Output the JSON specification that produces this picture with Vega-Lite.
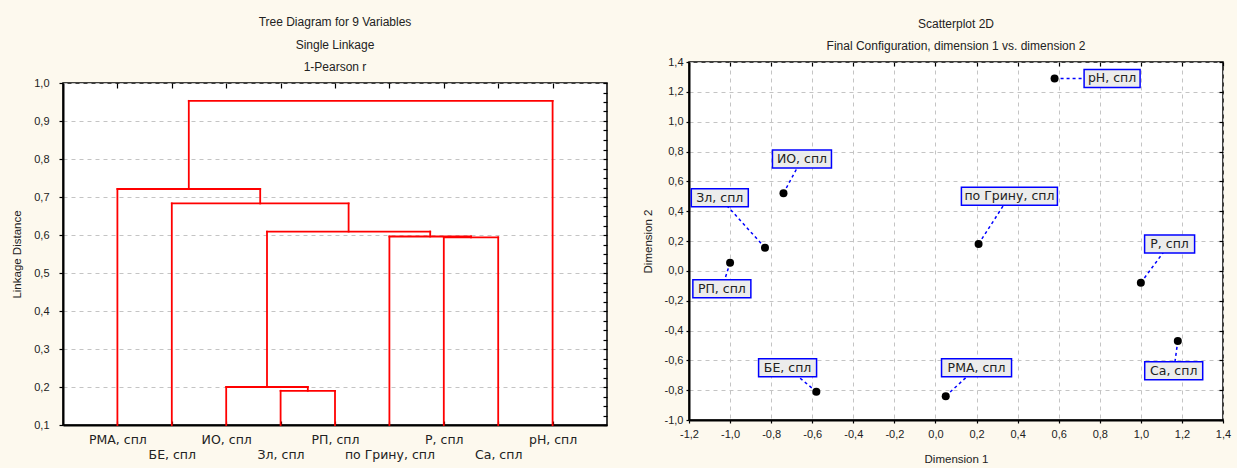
{
  "$schema": "https://vega.github.io/schema/vega-lite/v6.json",
  "background": "#fdf9ee",
  "padding": {"left": 10, "top": 15, "right": 5, "bottom": 2},
  "spacing": 32,
  "config": {
    "view": {"fill": "white", "stroke": "black", "strokeWidth": 1.5},
    "axis": {
      "domainColor": "black", "domainWidth": 2, "tickColor": "black", "tickWidth": 1.2,
      "labelFont": "Liberation Sans", "labelFontSize": 11, "labelColor": "#222",
      "labelOverlap": false, "labelFlush": false, "labelBound": false,
      "titleFont": "Liberation Sans", "titleFontSize": 11.5, "titleFontWeight": "normal", "titleColor": "#222",
      "gridColor": "#c4c4c4", "gridDash": [4, 4], "gridWidth": 1
    },
    "title": {"font": "Liberation Sans", "fontSize": 12, "fontWeight": "normal", "color": "#222", "lineHeight": 22.5, "offset": 3}
  },
  "hconcat": [
    {
      "bounds": "flush",
      "spacing": 20,
      "vconcat": [
        {
          "width": 1,
          "height": 1,
          "data": {"values": [{"a": 1}]},
          "mark": {"type": "point", "opacity": 0},
          "encoding": {},
          "view": {"stroke": null, "fill": null}
        },
        {
          "width": 544,
          "height": 342,
          "title": {"text": ["Tree Diagram for 9  Variables", "Single Linkage", "1-Pearson r"]},
          "data": {"values": [
            {"merge": "A", "xl": 4, "xr": 5, "h": 0.19, "hl": 0.1, "hr": 0.1},
            {"merge": "B", "xl": 3, "xr": 4.5, "h": 0.2, "hl": 0.1, "hr": 0.19},
            {"merge": "C", "xl": 7, "xr": 8, "h": 0.594, "hl": 0.1, "hr": 0.1},
            {"merge": "D", "xl": 6, "xr": 7.5, "h": 0.596, "hl": 0.1, "hr": 0.594},
            {"merge": "E", "xl": 3.75, "xr": 6.75, "h": 0.609, "hl": 0.2, "hr": 0.596},
            {"merge": "F", "xl": 2, "xr": 5.25, "h": 0.683, "hl": 0.1, "hr": 0.609},
            {"merge": "G", "xl": 1, "xr": 3.625, "h": 0.721, "hl": 0.1, "hr": 0.683},
            {"merge": "H", "xl": 2.3125, "xr": 9, "h": 0.953, "hl": 0.721, "hr": 0.1}
          ]},
          "layer": [
            {
              "layer": [
                {
                  "mark": {"type": "rule", "color": "#ff0000", "strokeWidth": 1.8, "strokeCap": "square"},
                  "encoding": {
                    "x": {"field": "xl", "type": "quantitative", "title": null,
                      "scale": {"domain": [0, 10], "nice": false, "zero": false},
                      "axis": {"values": [1, 2, 3, 4, 5, 6, 7, 8, 9], "tickCount": 100, "grid": false, "tickSize": -4, "labelPadding": 12,
                        "labelFont": "DejaVu Sans", "labelFontSize": 12.5, "labelLineHeight": 15,
                        "labelExpr": "datum.value % 2 == 0 ? ['', ['','РМА, спл','БЕ, спл','ИО, спл','Зл, спл','РП, спл','по Грину, спл','P, спл','Ca, спл','pH, спл'][datum.value]] : ['','РМА, спл','БЕ, спл','ИО, спл','Зл, спл','РП, спл','по Грину, спл','P, спл','Ca, спл','pH, спл'][datum.value]"}},
                    "x2": {"field": "xr"},
                    "y": {"field": "h", "type": "quantitative", "title": "Linkage Distance",
                      "scale": {"domain": [0.1, 1.0], "nice": false, "zero": false},
                      "axis": {"values": [0.1, 0.2, 0.3, 0.4, 0.5, 0.6, 0.7, 0.8, 0.9, 1.0], "tickCount": 100, "grid": true, "tickSize": 4,
                        "labelPadding": 10, "titlePadding": 11,
                        "labelExpr": "replace(format(datum.value, '.1f'), '.', ',')"}}
                  }
                },
                {
                  "mark": {"type": "rule", "color": "#ff0000", "strokeWidth": 1.8, "strokeCap": "square"},
                  "encoding": {
                    "x": {"field": "xl", "type": "quantitative", "title": null},
                    "y": {"field": "hl", "type": "quantitative", "title": "Linkage Distance"},
                    "y2": {"field": "h"}
                  }
                },
                {
                  "mark": {"type": "rule", "color": "#ff0000", "strokeWidth": 1.8, "strokeCap": "square"},
                  "encoding": {
                    "x": {"field": "xr", "type": "quantitative", "title": null},
                    "y": {"field": "hr", "type": "quantitative", "title": "Linkage Distance"},
                    "y2": {"field": "h"}
                  }
                }
              ]
            },
            {
              "mark": {"type": "rule", "opacity": 0},
              "encoding": {
                "x": {"field": "xl", "type": "quantitative",
                  "axis": {"orient": "top", "values": [1, 2, 3, 4, 5, 6, 7, 8, 9], "tickCount": 100, "labels": false, "domain": false, "grid": false, "tickSize": -5, "title": null}},
                "y": {"field": "h", "type": "quantitative",
                  "axis": {"orient": "right", "labels": false, "domain": false, "grid": false, "tickSize": -4, "title": null, "tickCount": 100,
                    "values": [0.1, 0.125, 0.15, 0.175, 0.2, 0.225, 0.25, 0.275, 0.3, 0.325, 0.35, 0.375, 0.4, 0.425, 0.45, 0.475, 0.5, 0.525, 0.55, 0.575, 0.6, 0.625, 0.65, 0.675, 0.7, 0.725, 0.75, 0.775, 0.8, 0.825, 0.85, 0.875, 0.9, 0.925, 0.95, 0.975, 1.0]}}
              }
            }
          ],
          "resolve": {"axis": {"x": "independent", "y": "independent"}}
        }
      ]
    },
    {
      "width": 534,
      "height": 358,
      "title": {"text": ["Scatterplot 2D", "Final Configuration, dimension 1  vs. dimension 2"]},
      "data": {"values": [
        {"name": "pH, спл", "x": 0.58, "y": 1.29, "lx": 0.86, "ly": 1.29},
        {"name": "по Грину, спл", "x": 0.21, "y": 0.18, "lx": 0.36, "ly": 0.5},
        {"name": "P, спл", "x": 1.0, "y": -0.08, "lx": 1.14, "ly": 0.18},
        {"name": "Ca, спл", "x": 1.18, "y": -0.47, "lx": 1.16, "ly": -0.67},
        {"name": "РМА, спл", "x": 0.05, "y": -0.84, "lx": 0.2, "ly": -0.65},
        {"name": "БЕ, спл", "x": -0.58, "y": -0.81, "lx": -0.72, "ly": -0.65},
        {"name": "ИО, спл", "x": -0.74, "y": 0.52, "lx": -0.65, "ly": 0.75},
        {"name": "Зл, спл", "x": -0.83, "y": 0.155, "lx": -1.05, "ly": 0.49},
        {"name": "РП, спл", "x": -1.0, "y": 0.055, "lx": -1.04, "ly": -0.12}
      ]},
      "layer": [
        {
          "layer": [
            {
              "mark": {"type": "rule", "color": "#0000ff", "strokeWidth": 1.5, "strokeDash": [3, 3]},
              "encoding": {
                "x": {"field": "x", "type": "quantitative", "title": "Dimension 1",
                  "scale": {"domain": [-1.2, 1.4], "nice": false, "zero": false},
                  "axis": {"values": [-1.2, -1.0, -0.8, -0.6, -0.4, -0.2, 0, 0.2, 0.4, 0.6, 0.8, 1.0, 1.2, 1.4], "tickCount": 100, "grid": true, "tickSize": 3,
                    "labelPadding": 5, "titlePadding": 14,
                    "labelExpr": "replace(replace(format(datum.value, '.1f'), '.', ','), '−', '-')"}},
                "x2": {"field": "lx"},
                "y": {"field": "y", "type": "quantitative", "title": "Dimension 2",
                  "scale": {"domain": [-1.0, 1.4], "nice": false, "zero": false},
                  "axis": {"values": [-1.0, -0.8, -0.6, -0.4, -0.2, 0, 0.2, 0.4, 0.6, 0.8, 1.0, 1.2, 1.4], "tickCount": 100, "grid": true, "tickSize": 3,
                    "labelPadding": 3, "titlePadding": 11,
                    "labelExpr": "replace(replace(format(datum.value, '.1f'), '.', ','), '−', '-')"}},
                "y2": {"field": "ly"}
              }
            },
            {
              "mark": {"type": "point", "filled": true, "color": "black", "size": 64, "opacity": 1},
              "encoding": {
                "x": {"field": "x", "type": "quantitative", "title": "Dimension 1"},
                "y": {"field": "y", "type": "quantitative", "title": "Dimension 2"}
              }
            },
            {
              "mark": {"type": "point", "filled": true, "fill": "#ececec", "stroke": "#0000ff", "strokeWidth": 1.5, "size": 400, "opacity": 1},
              "encoding": {
                "x": {"field": "lx", "type": "quantitative", "title": "Dimension 1"},
                "y": {"field": "ly", "type": "quantitative", "title": "Dimension 2"},
                "shape": {"field": "name", "type": "nominal", "legend": null,
                  "scale": {
                    "domain": ["pH, спл", "по Грину, спл", "P, спл", "Ca, спл", "РМА, спл", "БЕ, спл", "ИО, спл", "Зл, спл", "РП, спл"],
                    "range": [
                      "M-2.8,-0.9L2.8,-0.9L2.8,0.9L-2.8,0.9Z",
                      "M-4.8,-0.9L4.8,-0.9L4.8,0.9L-4.8,0.9Z",
                      "M-2.5,-0.9L2.5,-0.9L2.5,0.9L-2.5,0.9Z",
                      "M-2.9,-0.9L2.9,-0.9L2.9,0.9L-2.9,0.9Z",
                      "M-3.5,-0.9L3.5,-0.9L3.5,0.9L-3.5,0.9Z",
                      "M-2.9,-0.9L2.9,-0.9L2.9,0.9L-2.9,0.9Z",
                      "M-2.95,-0.9L2.95,-0.9L2.95,0.9L-2.95,0.9Z",
                      "M-2.85,-0.9L2.85,-0.9L2.85,0.9L-2.85,0.9Z",
                      "M-2.9,-0.9L2.9,-0.9L2.9,0.9L-2.9,0.9Z"
                    ]}}
              }
            },
            {
              "mark": {"type": "text", "font": "DejaVu Sans", "fontSize": 12.5, "color": "#222", "baseline": "middle", "align": "center"},
              "encoding": {
                "x": {"field": "lx", "type": "quantitative", "title": "Dimension 1"},
                "y": {"field": "ly", "type": "quantitative", "title": "Dimension 2"},
                "text": {"field": "name"}
              }
            }
          ]
        },
        {
          "mark": {"type": "rule", "opacity": 0},
          "encoding": {
            "x": {"field": "x", "type": "quantitative",
              "axis": {"orient": "top", "values": [-1.2, -1.0, -0.8, -0.6, -0.4, -0.2, 0, 0.2, 0.4, 0.6, 0.8, 1.0, 1.2, 1.4], "tickCount": 100, "labels": false, "domain": false, "grid": false, "tickSize": -4, "title": null}},
            "y": {"field": "y", "type": "quantitative",
              "axis": {"orient": "right", "values": [-1.0, -0.8, -0.6, -0.4, -0.2, 0, 0.2, 0.4, 0.6, 0.8, 1.0, 1.2, 1.4], "tickCount": 100, "labels": false, "domain": false, "grid": false, "tickSize": -4, "title": null}}
          }
        }
      ],
      "resolve": {"axis": {"x": "independent", "y": "independent"}}
    }
  ]
}
